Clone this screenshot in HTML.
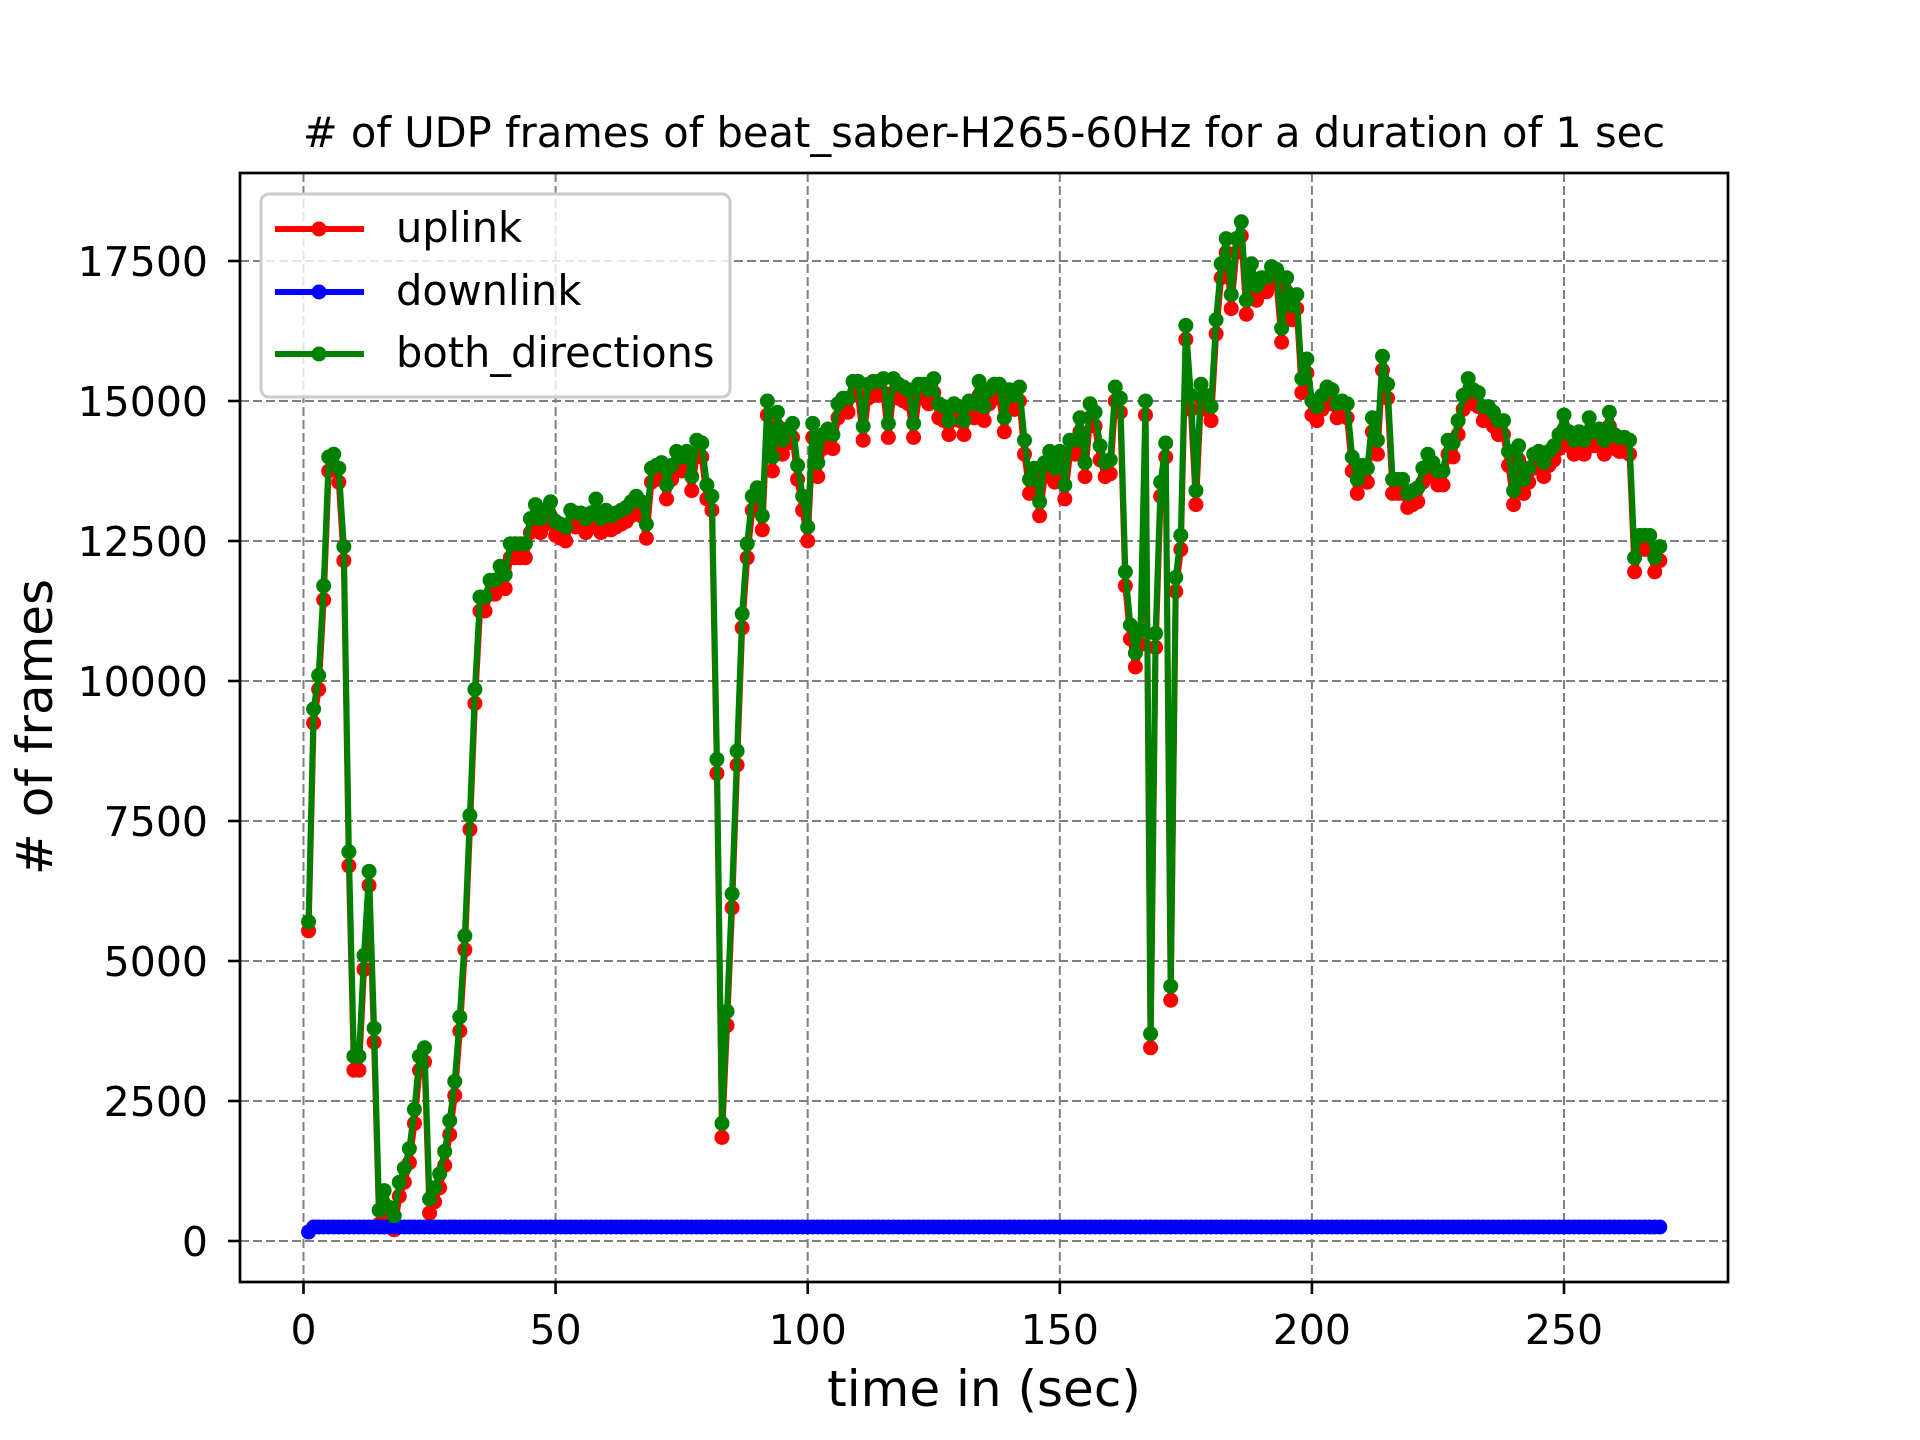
<!DOCTYPE html>
<html><head><meta charset="utf-8"><style>
html,body{margin:0;padding:0;background:#fff;}
svg{display:block;font-family:"DejaVu Sans","Liberation Sans",sans-serif;}
</style></head><body>
<svg id="chart" width="1920" height="1440" viewBox="0 0 1920 1440" xmlns="http://www.w3.org/2000/svg">
<rect width="1920" height="1440" fill="#fff"/>
<g id="grid"></g>
<g id="series"></g>
<rect x="240" y="173" width="1488" height="1109" fill="none" stroke="#000" stroke-width="2.7"/>
<g id="ticks"></g>
<text x="984" y="147" text-anchor="middle" font-size="41.6">
# of UDP frames of beat_saber-H265-60Hz for a duration of 1 sec</text>
<text x="984" y="1406" text-anchor="middle" font-size="50">time in (sec)</text>
<text transform="translate(52,727) rotate(-90)" text-anchor="middle" font-size="50"># of frames</text>
<g>
<rect x="261" y="194" width="469" height="203" rx="8" fill="#fff" fill-opacity="0.8" stroke="#cccccc" stroke-width="3"/>
<g>
<line x1="275" y1="229" x2="364" y2="229" stroke="#ff0000" stroke-width="6"/><circle cx="319" cy="229" r="7.5" fill="#ff0000"/>
<text x="396" y="242" font-size="41.5">uplink</text></g>
<g>
<line x1="275" y1="292" x2="364" y2="292" stroke="#0000ff" stroke-width="6"/><circle cx="319" cy="292" r="7.5" fill="#0000ff"/>
<text x="396" y="305" font-size="41.5">downlink</text></g>
<g>
<line x1="275" y1="354" x2="364" y2="354" stroke="#008000" stroke-width="6"/><circle cx="319" cy="354" r="7.5" fill="#008000"/>
<text x="396" y="367" font-size="41.5">both_directions</text></g>
</g>
</svg>
<script>
const xTicks = [0, 50, 100, 150, 200, 250];
const yTicks = [0, 2500, 5000, 7500, 10000, 12500, 15000, 17500];
const bothDirections = [5700,9500,10100,11700,14000,14050,13800,12400,6950,3300,3300,5100,6600,3800,550,900,600,450,1050,1300,1650,2350,3300,3450,750,950,1200,1600,2150,2850,4000,5450,7600,9850,11500,11500,11800,11800,12050,11900,12450,12450,12450,12450,12900,13150,12900,13050,13200,12850,12800,12750,13050,13000,13000,12900,13000,13250,12900,13050,12950,13000,13050,13100,13200,13300,13200,12800,13800,13850,13900,13500,13850,14100,14000,14100,13650,14300,14250,13500,13300,8600,2100,4100,6200,8750,11200,12450,13300,13450,12950,15000,14000,14800,14300,14500,14600,13850,13300,12750,14600,13900,14400,14500,14400,14950,15050,15050,15350,15350,14550,15300,15350,15350,15400,14600,15400,15300,15250,15200,14600,15300,15300,15200,15400,14950,14900,14650,14950,14900,14650,15000,14950,15350,14900,15200,15300,15300,14700,15200,15100,15250,14300,13600,13800,13200,13900,14100,13800,14100,13500,14300,14300,14700,13900,14950,14800,14200,13900,13950,15250,15050,11950,11000,10500,10900,15000,3700,10850,13550,14250,4550,11850,12600,16350,15100,13400,15300,15100,14900,16450,17450,17900,16900,17900,18200,16800,17450,17050,17200,17200,17400,17350,16300,17200,16700,16900,15400,15750,15000,14900,15100,15250,15200,14950,15000,14950,14000,13600,13850,13800,14700,14300,15800,15300,13600,13600,13600,13350,13400,13450,13800,14050,13900,13750,13750,14300,14250,14650,15100,15400,15200,15150,14900,14900,14800,14650,14650,14100,13400,14200,13600,13800,14050,14100,13900,14100,14200,14400,14750,14450,14300,14450,14300,14700,14450,14500,14300,14800,14400,14350,14350,14300,12200,12600,12600,12600,12200,12400];
const downlink = bothDirections.map((v, i) => i === 0 ? 160 : 250);
const uplink = bothDirections.map((v, i) => v - downlink[i]);
const times = bothDirections.map((v, i) => i + 1);

const NS = 'http://www.w3.org/2000/svg';
const xs = t => 303.5 + t * (1564 - 303.5) / 250;
const ys = v => 1241 - v * 140 / 2500;
function mk(tag, attrs, parent) {
  const e = document.createElementNS(NS, tag);
  for (const k in attrs) e.setAttribute(k, attrs[k]);
  parent.appendChild(e);
  return e;
}
const grid = document.getElementById('grid');
const ticks = document.getElementById('ticks');
xTicks.forEach(t => {
  const g = mk('line', {x1: xs(t), x2: xs(t), y1: 173, y2: 1282, stroke: '#808080', 'stroke-width': 2, 'stroke-dasharray': '9,4'}, grid);
  
  
  const tk = mk('line', {x1: xs(t), x2: xs(t), y1: 1282, y2: 1294, stroke: '#000', 'stroke-width': 2.6}, ticks);
  
  
  const tx = mk('text', {x: xs(t), y: 1344, 'text-anchor': 'middle', 'font-size': 41}, ticks);
  tx.textContent = t;
  
  
});
yTicks.forEach(v => {
  const g = mk('line', {x1: 240, x2: 1728, y1: ys(v), y2: ys(v), stroke: '#808080', 'stroke-width': 2, 'stroke-dasharray': '9,4'}, grid);
  
  
  const tk = mk('line', {x1: 228, x2: 240, y1: ys(v), y2: ys(v), stroke: '#000', 'stroke-width': 2.6}, ticks);
  
  
  const tx = mk('text', {x: 208, y: ys(v) + 15, 'text-anchor': 'end', 'font-size': 41}, ticks);
  tx.textContent = v;
  
  
});
const series = document.getElementById('series');
function drawSeries(vals, color, name) {
  const g = mk('g', {}, series);
  
  
  const pts = vals.map((v, i) => xs(times[i]).toFixed(2) + ',' + ys(v).toFixed(2)).join(' ');
  const pl = mk('polyline', {points: pts, fill: 'none', stroke: color, 'stroke-width': 6, 'stroke-linejoin': 'round', 'stroke-linecap': 'round'}, g);
  
  
  vals.forEach((v, i) => {
    const c = mk('circle', {cx: xs(times[i]), cy: ys(v), r: 7.5, fill: color}, g);
    
    
  });
}
drawSeries(uplink, '#ff0000', 'uplink');
drawSeries(downlink, '#0000ff', 'downlink');
drawSeries(bothDirections, '#008000', 'both-directions');
</script>
</body></html>
